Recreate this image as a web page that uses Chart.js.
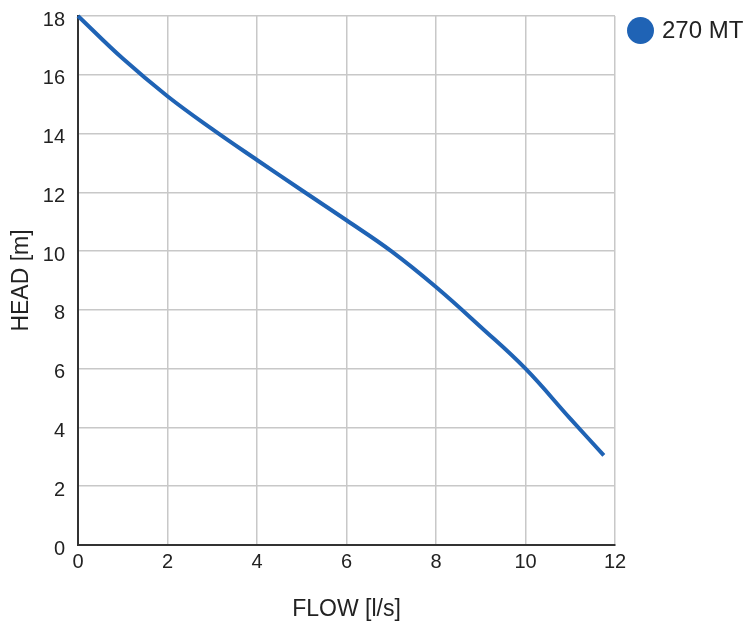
<!DOCTYPE html>
<html><head><meta charset="utf-8">
<script src="https://cdn.jsdelivr.net/npm/chart.js@4"></script>
<style>
html,body{margin:0;padding:0;background:#fff;}
#wrap{position:relative;width:747px;height:626px;}
#legend{position:absolute;left:627px;top:16px;display:flex;align-items:center;font-family:"Liberation Sans",Arial,sans-serif;font-size:24px;color:#222;white-space:nowrap;}
#legend .dot{width:27px;height:27px;border-radius:50%;margin-right:8px;}
</style></head><body>
<div id="wrap"><canvas id="c"></canvas><div id="legend"></div></div>
<script>
const seriesName = "270 MT";
const flow = [0, 1, 2, 3, 4, 5, 6, 7, 8, 9, 10, 11, 11.75];
const head = [18, 16.55, 15.27, 14.15, 13.1, 12.07, 11.05, 10.0, 8.78, 7.42, 6.0, 4.3, 3.05];
const xTicks = [0, 2, 4, 6, 8, 10, 12];
const yTicks = [0, 2, 4, 6, 8, 10, 12, 14, 16, 18];
const xTitle = "FLOW [l/s]";
const yTitle = "HEAD [m]";
const lineColor = "#1f63b5";

const FONT = '"Liberation Sans", Arial, sans-serif';
const textColor = "#222";

const points = flow.map((x, i) => ({x: x, y: head[i]}));

document.getElementById('legend').innerHTML =
  '<span class="dot" style="background:' + lineColor + '"></span><span>' + seriesName + '</span>';

new Chart(document.getElementById('c'), {
  type: 'line',
  data: {
    datasets: [{
      label: seriesName,
      data: points,
      borderColor: lineColor,
      backgroundColor: lineColor,
      borderWidth: 4,
      pointRadius: 0,
      tension: 0.4,
      clip: false
    }]
  },
  options: {
    responsive: true,
    maintainAspectRatio: false,
    animation: false,
    layout: {padding: {left: 0, right: 132, top: 16, bottom: 0}},
    plugins: {legend: {display: false}, tooltip: {enabled: false}},
    scales: {
      x: {
        type: 'linear',
        min: xTicks[0], max: xTicks[xTicks.length - 1],
        afterBuildTicks: s => { s.ticks = xTicks.map(v => ({value: v})); },
        afterFit: s => { s.height = 81; s.paddingLeft = 0; s.paddingRight = 0; },
        grid: {color: '#c8c8c8', lineWidth: 1.5, drawTicks: false},
        border: {color: '#333', width: 2},
        ticks: {padding: 5, color: textColor, font: {family: FONT, size: 20}, maxRotation: 0},
        title: {display: true, text: xTitle, color: textColor, font: {family: FONT, size: 23}, padding: {top: 0, bottom: 3}}
      },
      y: {
        type: 'linear',
        min: yTicks[0], max: yTicks[yTicks.length - 1],
        afterBuildTicks: s => { s.ticks = yTicks.map(v => ({value: v})); },
        afterFit: s => { s.width = 78; s.paddingTop = 0; s.paddingBottom = 0; },
        grid: {color: '#c8c8c8', lineWidth: 1.5, drawTicks: false},
        border: {color: '#333', width: 2},
        ticks: {padding: 13, labelOffset: 4, color: textColor, font: {family: FONT, size: 20}},
        title: {display: true, text: yTitle, color: textColor, font: {family: FONT, size: 23}, padding: {top: 8, bottom: 0}}
      }
    }
  }
});
</script>
</body></html>
